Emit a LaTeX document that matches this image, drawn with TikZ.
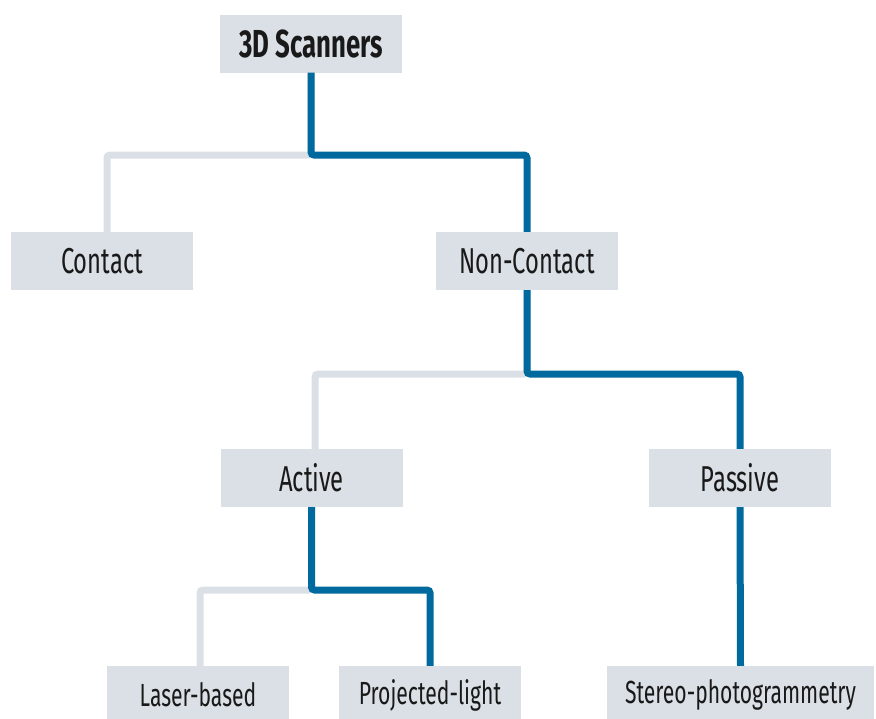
\documentclass[tikz,border=0pt]{standalone}
\usepackage{fontspec}
\setmainfont{Fira Sans}[FakeStretch=0.66]
\definecolor{boxgrey}{HTML}{DAE0E6}
\definecolor{lineblue}{HTML}{00699D}
\begin{document}
\begin{tikzpicture}[x=1pt,y=-1pt,
  box/.style={fill=boxgrey, minimum width=182pt, minimum height=58pt, inner sep=0pt, font=\fontsize{36}{40}\selectfont, text=black!90},
  small/.style={font=\fontsize{32}{36}\selectfont},
  bluel/.style={draw=lineblue, line width=7pt, rounded corners=3pt},
  greyl/.style={draw=boxgrey, line width=7pt, rounded corners=3pt}]
\useasboundingbox (0,0) rectangle (876,718);
\clip (0,0) rectangle (876,718);
\node[box, font=\fontsize{39}{42}\selectfont\bfseries] (root) at (311,43.5) {3D Scanners};
\node[box] (contact) at (102,261) {Contact};
\node[box] (noncontact) at (527,261) {Non-Contact};
\node[box] (active) at (311.5,478) {Active};
\node[box] (passive) at (740,478) {Passive};
\node[box, small] (laser) at (198,695) {Laser-based};
\node[box, small] (proj) at (430,695) {Projected-light};
\node[box, small, minimum width=267pt] (stereo) at (740.5,695) {Stereo-photogrammetry};
\coordinate (c1) at (107,155);
\coordinate (c2) at (315,374);
\coordinate (c3) at (200,590);
% grey connectors
\draw[greyl] (root.south) -- (root.south |- c1) -- (c1) -- (c1 |- contact.north);
\draw[greyl] (noncontact.south) -- (noncontact.south |- c2) -- (c2) -- (c2 |- active.north);
\draw[greyl] (active.south) -- (active.south |- c3) -- (c3) -- (c3 |- laser.north);
% blue connectors
\draw[bluel] (root.south) -- (root.south |- c1) -- (noncontact.north |- c1) -- (noncontact.north);
\draw[bluel] (noncontact.south) -- (noncontact.south |- c2) -- (passive.north |- c2) -- (passive.north);
\draw[bluel] (active.south) -- (active.south |- c3) -- (proj.north |- c3) -- (proj.north);
\draw[bluel] (passive.south) -- (stereo.north);
\end{tikzpicture}
\end{document}
